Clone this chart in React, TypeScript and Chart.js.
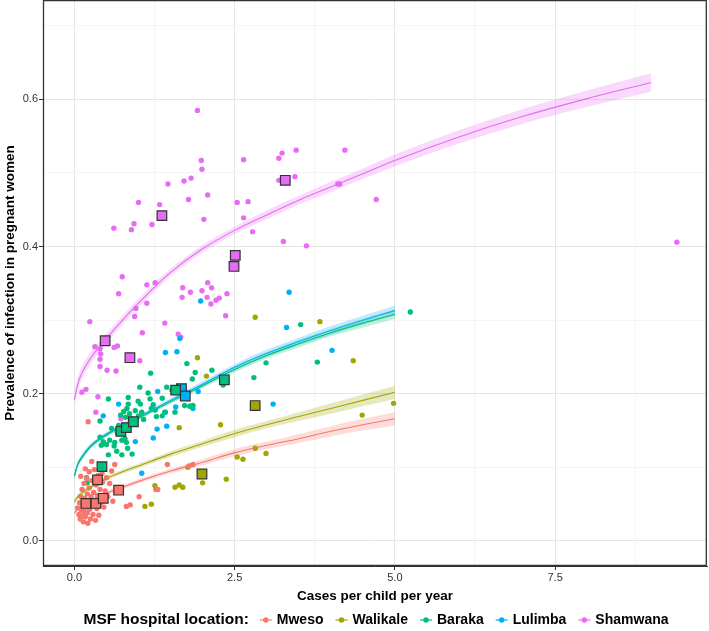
import React, { useEffect, useRef } from "react";
import { Chart, registerables } from "chart.js";

Chart.register(...registerables);

const LOCATIONS = ["Mweso", "Walikale", "Baraka", "Lulimba", "Shamwana"];
const COLORS = ["#F8766D", "#A3A500", "#00BF7D", "#00B0F6", "#E76BF3"];
const LEGEND_TITLE = "MSF hospital location:";
const X_TITLE = "Cases per child per year";
const Y_TITLE = "Prevalence of infection in pregnant women";

const X_TICKS = [0, 1.25, 2.5, 3.75, 5, 6.25, 7.5, 8.75];
const X_MAJOR = [0, 2.5, 5, 7.5];
const Y_TICKS = [0, 0.1, 0.2, 0.3, 0.4, 0.5, 0.6, 0.7];
const Y_MAJOR = [0, 0.2, 0.4, 0.6];

// village-level observations [cases per child per year, prevalence]
const mwesoPoints: [number, number][] = [
  [0.05, 0.045], [0.07, 0.036], [0.08, 0.052], [0.09, 0.03], [0.1, 0.06], [0.11, 0.042],
  [0.12, 0.034], [0.12, 0.07], [0.13, 0.05], [0.14, 0.026], [0.15, 0.04], [0.15, 0.078],
  [0.16, 0.058], [0.17, 0.033], [0.18, 0.046], [0.19, 0.085], [0.2, 0.038], [0.2, 0.064],
  [0.21, 0.024], [0.22, 0.052], [0.23, 0.072], [0.23, 0.094], [0.24, 0.043], [0.25, 0.03],
  [0.26, 0.06], [0.27, 0.082], [0.28, 0.048], [0.29, 0.036], [0.3, 0.066], [0.31, 0.097],
  [0.32, 0.054], [0.33, 0.028], [0.34, 0.076], [0.35, 0.044], [0.36, 0.062], [0.37, 0.089],
  [0.38, 0.035], [0.4, 0.07], [0.41, 0.052], [0.43, 0.092], [0.44, 0.08], [0.46, 0.046],
  [0.48, 0.068], [0.5, 0.086], [0.52, 0.06], [0.55, 0.078], [0.58, 0.095], [0.1, 0.088],
  [0.17, 0.098], [0.27, 0.108], [0.215, 0.162], [0.63, 0.104], [0.6, 0.054], [0.81, 0.047],
  [0.87, 0.049], [1.01, 0.06], [1.27, 0.07], [1.3, 0.07], [1.45, 0.104], [1.79, 0.102],
  [1.85, 0.104],
];
const walikalePoints: [number, number][] = [
  [1.1, 0.047], [1.2, 0.05], [1.256, 0.075], [1.57, 0.073], [1.635, 0.076], [1.69, 0.073],
  [1.77, 0.1], [2.0, 0.079], [2.37, 0.084], [1.635, 0.154], [2.28, 0.158], [2.54, 0.114],
  [2.63, 0.111], [2.82, 0.126], [2.99, 0.119], [1.92, 0.249], [2.06, 0.224], [2.82, 0.304],
  [3.83, 0.298], [4.35, 0.245], [4.49, 0.171], [4.98, 0.187],
];
const barakaPoints: [number, number][] = [
  [5.24, 0.311], [3.53, 0.294], [3.79, 0.243], [2.99, 0.242], [2.8, 0.222], [2.32, 0.212],
  [2.145, 0.232], [1.885, 0.229], [1.755, 0.241], [1.84, 0.22], [1.19, 0.228], [1.02, 0.209],
  [1.15, 0.201], [1.44, 0.209], [1.52, 0.205], [0.53, 0.193], [0.84, 0.195], [0.84, 0.186],
  [0.995, 0.19], [1.03, 0.186], [1.18, 0.193], [1.37, 0.194], [1.23, 0.185], [1.2, 0.18],
  [1.26, 0.178], [1.28, 0.169], [1.41, 0.175], [1.37, 0.17], [1.57, 0.175], [1.72, 0.184],
  [1.85, 0.184], [1.8, 0.183], [0.72, 0.171], [0.77, 0.176], [0.8, 0.168], [0.86, 0.173],
  [0.9, 0.166], [0.95, 0.177], [1.0, 0.17], [1.05, 0.175], [1.08, 0.165], [0.82, 0.18],
  [0.58, 0.153], [0.67, 0.147], [0.69, 0.157], [0.4, 0.163], [0.4, 0.141], [0.45, 0.135],
  [0.5, 0.131], [0.42, 0.13], [0.55, 0.137], [0.63, 0.134], [0.62, 0.129], [0.74, 0.137],
  [0.79, 0.139], [0.81, 0.134], [0.83, 0.126], [0.74, 0.117], [0.53, 0.117], [0.9, 0.118],
  [0.66, 0.122], [0.19, 0.086], [0.2, 0.079],
];
const lulimbaPoints: [number, number][] = [
  [0.45, 0.17], [0.69, 0.186], [0.95, 0.135], [1.05, 0.092], [1.23, 0.14], [1.29, 0.152],
  [1.44, 0.156], [1.3, 0.203], [1.42, 0.175], [1.58, 0.182], [1.83, 0.183], [1.85, 0.18],
  [1.93, 0.203], [1.42, 0.256], [1.6, 0.257], [1.645, 0.275], [1.97, 0.326], [3.1, 0.186],
  [3.31, 0.29], [3.35, 0.338], [4.02, 0.259],
];
const shamwanaPoints: [number, number][] = [
  [1.92, 0.585], [1.98, 0.517], [1.99, 0.505], [2.64, 0.518], [3.19, 0.52], [3.24, 0.527],
  [3.46, 0.531], [4.22, 0.531], [3.19, 0.49], [3.44, 0.495], [4.11, 0.485], [4.14, 0.485],
  [1.46, 0.485], [1.71, 0.489], [1.82, 0.493], [1.78, 0.464], [2.08, 0.47], [1.0, 0.46],
  [1.33, 0.457], [2.54, 0.46], [2.71, 0.461], [2.02, 0.437], [2.64, 0.439], [2.78, 0.42],
  [0.616, 0.425], [0.89, 0.423], [0.93, 0.431], [1.21, 0.43], [3.26, 0.407], [3.62, 0.401],
  [0.746, 0.359], [0.69, 0.336], [1.13, 0.348], [1.26, 0.351], [0.96, 0.316], [1.13, 0.323],
  [0.94, 0.305], [1.69, 0.344], [2.14, 0.344], [2.08, 0.351], [1.81, 0.338], [1.99, 0.34],
  [1.68, 0.331], [2.07, 0.331], [2.13, 0.322], [2.21, 0.327], [2.26, 0.33], [2.38, 0.336],
  [2.36, 0.306], [0.24, 0.298], [1.41, 0.296], [1.06, 0.283], [1.62, 0.281], [1.66, 0.277],
  [0.32, 0.264], [0.4, 0.261], [0.41, 0.254], [0.4, 0.247], [0.62, 0.263], [0.67, 0.265],
  [1.02, 0.245], [0.4, 0.237], [0.51, 0.232], [0.65, 0.231], [0.117, 0.202], [0.18, 0.206],
  [0.367, 0.196], [0.335, 0.175], [0.725, 0.166], [4.71, 0.464], [9.4, 0.406],
];

// hospital-level observations (squares)
const mwesoSites: [number, number][] = [[0.36, 0.083], [0.18, 0.051], [0.335, 0.051], [0.45, 0.058], [0.69, 0.069]];
const walikaleSites: [number, number][] = [[1.99, 0.091], [2.82, 0.184]];
const barakaSites: [number, number][] = [[0.43, 0.101], [0.725, 0.149], [0.81, 0.154], [0.92, 0.162], [1.58, 0.205], [2.34, 0.219]];
const lulimbaSites: [number, number][] = [[1.67, 0.207], [1.73, 0.197]];
const shamwanaSites: [number, number][] = [[3.29, 0.49], [1.365, 0.442], [2.51, 0.388], [2.49, 0.373], [0.48, 0.272], [0.866, 0.249]];

// fitted curves and their standard-error half widths
const fitX5 = [0, 0.05, 0.1, 0.25, 0.5, 0.75, 1, 1.5, 2, 2.5, 3, 3.5, 4, 4.5, 5];
const mwesoFit = [0.038, 0.043, 0.047, 0.055, 0.065, 0.073, 0.081, 0.095, 0.107, 0.12, 0.13, 0.139, 0.149, 0.158, 0.166];
const mwesoSE = [0.004, 0.003, 0.003, 0.003, 0.003, 0.003, 0.003, 0.003, 0.004, 0.005, 0.005, 0.006, 0.007, 0.008, 0.009];
const walikaleFit = [0.053, 0.06, 0.064, 0.073, 0.085, 0.094, 0.102, 0.118, 0.132, 0.146, 0.158, 0.169, 0.18, 0.191, 0.202];
const walikaleSE = [0.004, 0.003, 0.003, 0.003, 0.003, 0.003, 0.003, 0.004, 0.004, 0.005, 0.005, 0.006, 0.007, 0.008, 0.009];
const barakaFit = [0.088, 0.103, 0.111, 0.128, 0.144, 0.156, 0.167, 0.189, 0.211, 0.233, 0.252, 0.268, 0.283, 0.296, 0.308];
const barakaSE = [0.004, 0.003, 0.003, 0.003, 0.003, 0.003, 0.003, 0.003, 0.003, 0.004, 0.004, 0.005, 0.005, 0.006, 0.006];
const lulimbaFit = [0.089, 0.104, 0.112, 0.129, 0.145, 0.157, 0.168, 0.191, 0.213, 0.236, 0.255, 0.271, 0.286, 0.3, 0.313];
const lulimbaSE = [0.005, 0.004, 0.004, 0.003, 0.003, 0.003, 0.003, 0.003, 0.004, 0.004, 0.005, 0.005, 0.006, 0.006, 0.007];
const fitX9 = [0, 0.05, 0.1, 0.25, 0.5, 0.75, 1, 1.25, 1.5, 2, 2.5, 3, 3.5, 4, 4.5, 5, 6, 7, 8, 9];
const shamwanaFit = [0.192, 0.212, 0.225, 0.248, 0.275, 0.3, 0.323, 0.345, 0.365, 0.397, 0.422, 0.443, 0.463, 0.481, 0.499, 0.517, 0.549, 0.577, 0.601, 0.623];
const shamwanaSE = [0.012, 0.01, 0.009, 0.008, 0.007, 0.006, 0.006, 0.006, 0.005, 0.005, 0.005, 0.006, 0.006, 0.007, 0.007, 0.008, 0.009, 0.01, 0.011, 0.0125];

const SERIES = [
  { points: mwesoPoints, sites: mwesoSites, fx: fitX5, fit: mwesoFit, se: mwesoSE },
  { points: walikalePoints, sites: walikaleSites, fx: fitX5, fit: walikaleFit, se: walikaleSE },
  { points: barakaPoints, sites: barakaSites, fx: fitX5, fit: barakaFit, se: barakaSE },
  { points: lulimbaPoints, sites: lulimbaSites, fx: fitX5, fit: lulimbaFit, se: lulimbaSE },
  { points: shamwanaPoints, sites: shamwanaSites, fx: fitX9, fit: shamwanaFit, se: shamwanaSE },
];

const FONT = '"Liberation Sans", Arial, Helvetica, sans-serif';

function rgba(hex: string, a: number) {
  const n = parseInt(hex.slice(1), 16);
  return `rgba(${(n >> 16) & 255},${(n >> 8) & 255},${n & 255},${a})`;
}

const near = (arr: number[], v: number) => arr.some((m) => Math.abs(m - v) < 1e-6);

const panelBorder = {
  id: "panelBorder",
  afterDraw(chart: any) {
    const { ctx, chartArea: a } = chart;
    ctx.save();
    ctx.strokeStyle = "#333333";
    ctx.lineWidth = 1.3;
    const l = Math.round(a.left) + 0.5;
    const t = Math.round(a.top) + 0.7;
    const r = Math.round(a.right) - 0.7;
    const b = Math.round(a.bottom) - 0.5;
    ctx.beginPath();
    ctx.moveTo(l, t);
    ctx.lineTo(r, t);
    ctx.lineTo(r, b);
    ctx.lineTo(l, b);
    ctx.closePath();
    ctx.stroke();
    ctx.restore();
  },
};

const ggLegend = {
  id: "ggLegend",
  afterDraw(chart: any) {
    const { ctx, chartArea: a } = chart;
    ctx.save();
    const y = 620;
    const titleFont = `bold 15.5px ${FONT}`;
    const itemFont = `bold 14px ${FONT}`;
    ctx.font = titleFont;
    const tw = ctx.measureText(LEGEND_TITLE).width;
    ctx.font = itemFont;
    const iw = LOCATIONS.map((l) => ctx.measureText(l).width);
    const glyph = 12, gapTitle = 11, gapGlyph = 5, gapItem = 12;
    const total = tw + gapTitle + iw.reduce((s, w) => s + glyph + gapGlyph + w, 0) + gapItem * (LOCATIONS.length - 1);
    let x = (a.left + a.right) / 2 - total / 2 + 1;
    ctx.textBaseline = "middle";
    ctx.textAlign = "left";
    ctx.fillStyle = "#000";
    ctx.font = titleFont;
    ctx.fillText(LEGEND_TITLE, x, y);
    x += tw + gapTitle;
    ctx.font = itemFont;
    LOCATIONS.forEach((l, i) => {
      ctx.strokeStyle = COLORS[i];
      ctx.lineWidth = 1.2;
      ctx.beginPath();
      ctx.moveTo(x, y);
      ctx.lineTo(x + glyph, y);
      ctx.stroke();
      ctx.fillStyle = COLORS[i];
      ctx.beginPath();
      ctx.arc(x + glyph / 2, y, 2.7, 0, Math.PI * 2);
      ctx.fill();
      x += glyph + gapGlyph;
      ctx.fillStyle = "#000";
      ctx.fillText(l, x, y + 0.5);
      x += iw[i] + gapItem;
    });
    ctx.restore();
  },
};

export default function App() {
  const ref = useRef<HTMLCanvasElement | null>(null);
  useEffect(() => {
    document.body.style.margin = "0";
    const datasets: any[] = [];
    SERIES.forEach((s, i) => {
      const c = COLORS[i];
      datasets.push({
        type: "line",
        label: LOCATIONS[i] + " lower",
        data: s.fx.map((x, j) => ({ x, y: s.fit[j] - s.se[j] })),
        borderWidth: 0,
        borderColor: "rgba(0,0,0,0)",
        pointRadius: 0,
        fill: false,
        cubicInterpolationMode: "monotone",
        order: 5,
      });
      datasets.push({
        type: "line",
        label: LOCATIONS[i] + " upper",
        data: s.fx.map((x, j) => ({ x, y: s.fit[j] + s.se[j] })),
        borderWidth: 0,
        borderColor: "rgba(0,0,0,0)",
        backgroundColor: rgba(c, 0.25),
        pointRadius: 0,
        fill: "-1",
        cubicInterpolationMode: "monotone",
        order: 5,
      });
    });
    SERIES.forEach((s, i) => {
      datasets.push({
        type: "line",
        label: LOCATIONS[i] + " fit",
        data: s.fx.map((x, j) => ({ x, y: s.fit[j] })),
        borderColor: COLORS[i],
        borderWidth: 1.1,
        pointRadius: 0,
        fill: false,
        cubicInterpolationMode: "monotone",
        order: 3,
      });
    });
    SERIES.forEach((s, i) => {
      datasets.push({
        type: "scatter",
        label: LOCATIONS[i],
        data: s.points.map(([x, y]) => ({ x, y })),
        backgroundColor: COLORS[i],
        borderWidth: 0,
        pointRadius: 2.7,
        order: 4,
      });
    });
    SERIES.forEach((s, i) => {
      datasets.push({
        type: "scatter",
        label: LOCATIONS[i] + " hospital",
        data: s.sites.map(([x, y]) => ({ x, y })),
        backgroundColor: COLORS[i],
        borderColor: "#333333",
        borderWidth: 1.2,
        pointStyle: "rect",
        pointRadius: 6.8,
        order: 1,
      });
    });

    const chart = new Chart(ref.current as HTMLCanvasElement, {
      type: "scatter",
      data: { datasets },
      options: {
        animation: false,
        responsive: false,
        events: [],
        layout: { autoPadding: false, padding: { top: 0, right: 2, bottom: 27, left: 0 } },
        plugins: { legend: { display: false }, tooltip: { enabled: false } },
        scales: {
          x: {
            type: "linear",
            min: -0.49,
            max: 9.87,
            afterBuildTicks: (sc: any) => {
              sc.ticks = X_TICKS.map((v) => ({ value: v }));
            },
            afterFit: (sc: any) => {
              sc.height = 38;
              sc.paddingLeft = 0;
              sc.paddingRight = 0;
            },
            ticks: {
              autoSkip: false,
              maxRotation: 0,
              padding: 1,
              color: "#333333",
              font: { family: FONT, size: 11 },
              callback: (v: any) => (near(X_MAJOR, Number(v)) ? Number(v).toFixed(1) : ""),
            },
            grid: {
              color: (c: any) => (near(X_MAJOR, c.tick?.value) ? "#e6e6e6" : "#f2f2f2"),
              lineWidth: (c: any) => (near(X_MAJOR, c.tick?.value) ? 1 : 0.8),
              tickColor: (c: any) => (near(X_MAJOR, c.tick?.value) ? "#333333" : "rgba(0,0,0,0)"),
              tickLength: 4,
            },
            border: { display: true, color: "#333333", width: 1 },
            title: {
              display: true,
              text: X_TITLE,
              color: "#000",
              padding: { top: 0, bottom: 0 },
              font: { family: FONT, size: 13.5, weight: "bold" },
            },
          },
          y: {
            type: "linear",
            min: -0.034,
            max: 0.735,
            afterBuildTicks: (sc: any) => {
              sc.ticks = Y_TICKS.map((v) => ({ value: v }));
            },
            afterFit: (sc: any) => {
              sc.width = 43;
              sc.paddingTop = 0;
              sc.paddingBottom = 0;
            },
            ticks: {
              autoSkip: false,
              padding: 1,
              color: "#333333",
              font: { family: FONT, size: 11 },
              callback: (v: any) => (near(Y_MAJOR, Number(v)) ? Number(v).toFixed(1) : ""),
            },
            grid: {
              color: (c: any) => (near(Y_MAJOR, c.tick?.value) ? "#e6e6e6" : "#f2f2f2"),
              lineWidth: (c: any) => (near(Y_MAJOR, c.tick?.value) ? 1 : 0.8),
              tickColor: (c: any) => (near(Y_MAJOR, c.tick?.value) ? "#333333" : "rgba(0,0,0,0)"),
              tickLength: 4,
            },
            border: { display: true, color: "#333333", width: 1 },
            title: {
              display: true,
              text: Y_TITLE,
              color: "#000",
              padding: { top: 2, bottom: 0 },
              font: { family: FONT, size: 13.5, weight: "bold" },
            },
          },
        },
      } as any,
      plugins: [panelBorder, ggLegend],
    });
    return () => chart.destroy();
  }, []);

  return (
    <div style={{ width: 709, height: 631, background: "#fff" }}>
      <canvas ref={ref} width={709} height={631} style={{ display: "block" }} />
    </div>
  );
}
